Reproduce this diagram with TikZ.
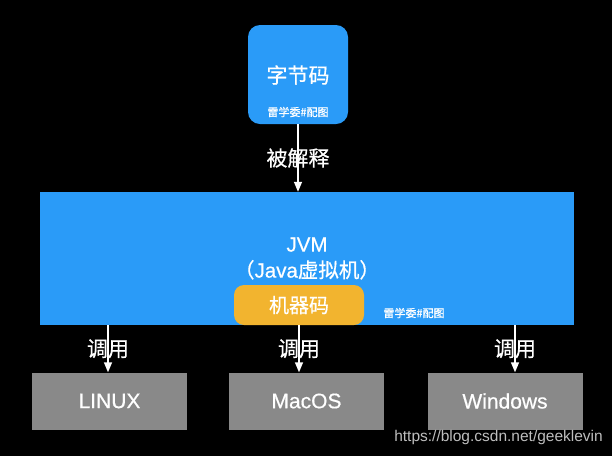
\documentclass[tikz,border=0pt]{standalone}
\usepackage{fontspec}
\setmainfont{Liberation Sans}[BoldFont=Liberation Sans, BoldFeatures={FakeBold=0.6}]
\newfontfamily\cjk{Noto Sans CJK SC}[BoldFont=Noto Sans CJK SC, BoldFeatures={FakeBold=0.6}]
\usepackage{xcolor}
\usepackage{tikz}
\usetikzlibrary{arrows.meta, positioning}
\definecolor{jvmblue}{HTML}{2A9BF8}
\definecolor{codeorange}{HTML}{F2B42F}
\definecolor{osgray}{HTML}{898989}
\definecolor{markgray}{HTML}{BEBEBE}

\begin{document}
\begin{tikzpicture}[
  x=1pt, y=-1pt,
  bluebox/.style={rectangle, fill=jvmblue, text=white, align=center, inner sep=0pt},
  codebox/.style={rectangle, rounded corners=10pt, fill=codeorange, text=white, minimum width=130pt, minimum height=40pt, inner sep=0pt, font=\cjk\bfseries\fontsize{20}{24}\selectfont},
  osbox/.style={rectangle, fill=osgray, text=white, minimum width=155pt, minimum height=57pt, inner sep=0pt, font=\bfseries\fontsize{21}{24}\selectfont},
  tag/.style={text=white, inner sep=0pt, font=\cjk\bfseries\fontsize{11}{13}\selectfont},
  verb/.style={text=white, inner sep=1pt, font=\cjk\bfseries\fontsize{21}{25}\selectfont},
  arrow/.style={-{Triangle[width=8pt, length=10pt]}, draw=white, line width=1.4pt},
]
  \fill[black] (0,0) rectangle (612,456);

  \node[bluebox, minimum width=534pt, minimum height=133pt, font=\bfseries\fontsize{20.5}{26}\selectfont] (jvm) at (307,258.5) {JVM\\{\cjk\bfseries （}Java{\cjk\bfseries 虚拟机）}};
  \node[bluebox, rounded corners=12pt, minimum width=100pt, minimum height=99pt] (byte) at (298,74.5) {};
  \node[text=white, font=\cjk\bfseries\fontsize{21}{25}\selectfont] (bytename) at (298,75) {字节码};
  \node[tag] (bytetag) at (298,112) {雷学委\#配图};

  \node[codebox] (code) at (299,305) {机器码};
  \node[tag] (jvmtag) at (414,313) {雷学委\#配图};

  \node[osbox] (linux) at (109.5,401) {LINUX};
  \node[osbox] (macos) at (306.5,401) {MacOS};
  \node[osbox] (windows) at (505,401) {Windows};

  \coordinate (tapL) at (108,325);
  \coordinate (tapW) at (515,325);

  \draw[arrow] (byte.south) -- (byte.south |- jvm.north) node[verb, midway] {被解释};
  \draw[arrow] (tapL |- jvm.south) -- (tapL |- linux.north) node[verb, midway] {调用};
  \draw[arrow] (code.south) -- (code.south |- macos.north) node[verb, midway] {调用};
  \draw[arrow] (tapW |- jvm.south) -- (tapW |- windows.north) node[verb, midway] {调用};

  \node[text=markgray, anchor=east, inner sep=0pt, font=\fontsize{15.5}{18}\selectfont] (credit) at (603,437) {https://blog.csdn.net/geeklevin};
\end{tikzpicture}
\end{document}
